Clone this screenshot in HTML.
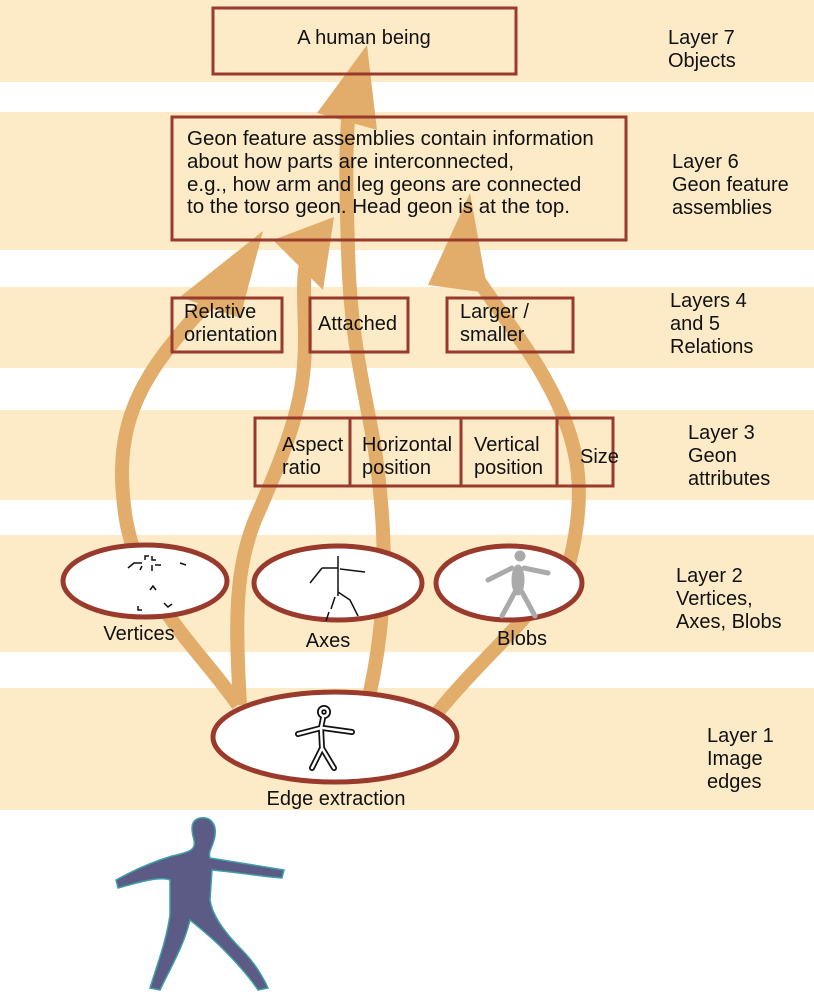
<!DOCTYPE html>
<html><head><meta charset="utf-8"><style>
body{margin:0;background:#fff;}
svg{display:block;font-family:"Liberation Sans",Arial,sans-serif;}
</style></head><body>
<svg width="814" height="996" viewBox="0 0 814 996">
<g fill="#fdebc8">
<rect x="0" y="0" width="814" height="82"/>
<rect x="0" y="112" width="814" height="138"/>
<rect x="0" y="287" width="814" height="81"/>
<rect x="0" y="410" width="814" height="90"/>
<rect x="0" y="535" width="814" height="117"/>
<rect x="0" y="688" width="814" height="122"/>
</g>
<g font-size="20" fill="#111">
<text x="668" y="44"><tspan x="668">Layer 7</tspan><tspan x="668" dy="23">Objects</tspan></text>
<text x="672" y="168"><tspan x="672">Layer 6</tspan><tspan x="672" dy="23">Geon feature</tspan><tspan x="672" dy="23">assemblies</tspan></text>
<text x="670" y="307"><tspan x="670">Layers 4</tspan><tspan x="670" dy="23">and 5</tspan><tspan x="670" dy="23">Relations</tspan></text>
<text x="688" y="439"><tspan x="688">Layer 3</tspan><tspan x="688" dy="23">Geon</tspan><tspan x="688" dy="23">attributes</tspan></text>
<text x="676" y="582"><tspan x="676">Layer 2</tspan><tspan x="676" dy="23">Vertices,</tspan><tspan x="676" dy="23">Axes, Blobs</tspan></text>
<text x="707" y="742"><tspan x="707">Layer 1</tspan><tspan x="707" dy="23">Image</tspan><tspan x="707" dy="23">edges</tspan></text>
</g>
<g fill="none" stroke="#e2ad6a" stroke-width="14" stroke-linecap="butt">
<path d="M238 705 C200 650 140 600 126 520 C115 450 125 400 175 340 C195 315 210 300 225 290"/>
<path d="M240 705 C235 620 235 570 255 520 C290 440 305 400 305 340 C305 300 300 270 312 245"/>
<path d="M370 692 C390 600 385 520 375 450 C365 390 350 340 348 250 C346 180 345 140 350 100"/>
<path d="M438 712 C480 660 530 620 570 560 C590 480 575 430 540 370 C510 320 480 290 462 250"/>
</g>
<g fill="#e2ad6a">
<polygon points="263,231 180,297 240,318"/>
<polygon points="334,217 273,240 323,290"/>
<polygon points="367,45 317,113 377,130"/>
<polygon points="470,193 428,285 488,293"/>
</g>
<g stroke="#993a2c" stroke-width="3" fill="none">
<rect x="213" y="8" width="303" height="66"/>
<rect x="172" y="117" width="454" height="123"/>
<rect x="172" y="298" width="110" height="54"/>
<rect x="310" y="298" width="98" height="54"/>
<rect x="447" y="298" width="126" height="54"/>
<rect x="255" y="418" width="358" height="68"/>
<line x1="350" y1="418" x2="350" y2="486"/>
<line x1="461" y1="418" x2="461" y2="486"/>
<line x1="557" y1="418" x2="557" y2="486"/>
</g>
<g stroke="#993a2c" stroke-width="5" fill="#fff">
<ellipse cx="145" cy="581" rx="82" ry="36"/>
<ellipse cx="338" cy="583" rx="84" ry="37"/>
<ellipse cx="509" cy="583" rx="73" ry="37"/>
<ellipse cx="335" cy="737" rx="122" ry="45"/>
</g>
<g font-size="20" fill="#111">
<text x="364" y="44" text-anchor="middle">A human being</text>
<text x="187" y="145" font-size="20.5"><tspan x="187">Geon feature assemblies contain information</tspan><tspan x="187" dy="23">about how parts are interconnected,</tspan><tspan x="187" dy="23">e.g., how arm and leg geons are connected</tspan><tspan x="187" dy="22">to the torso geon. Head geon is at the top.</tspan></text>
<text x="184" y="318"><tspan x="184">Relative</tspan><tspan x="184" dy="23">orientation</tspan></text>
<text x="318" y="330">Attached</text>
<text x="460" y="318"><tspan x="460">Larger /</tspan><tspan x="460" dy="23">smaller</tspan></text>
<text x="282" y="451"><tspan x="282">Aspect</tspan><tspan x="282" dy="23">ratio</tspan></text>
<text x="362" y="451"><tspan x="362">Horizontal</tspan><tspan x="362" dy="23">position</tspan></text>
<text x="474" y="451"><tspan x="474">Vertical</tspan><tspan x="474" dy="23">position</tspan></text>
<text x="580" y="463">Size</text>
<text x="139" y="640" text-anchor="middle">Vertices</text>
<text x="328" y="647" text-anchor="middle">Axes</text>
<text x="522" y="645" text-anchor="middle">Blobs</text>
<text x="336" y="805" text-anchor="middle">Edge extraction</text>
</g>
<g stroke="#111" stroke-width="1.5" fill="none">
<path d="M128 568 l6 -5 l8 0 M145 560 l0 -4 l4 0 M152 556 l0 4 l4 0 M142 566 l-2 4 M152 565 l0 6 M155 565 l6 0 M180 563 l6 2 M150 590 l3 -4 l3 4 M138 606 l0 4 l4 0 M164 603 l4 4 l4 -3"/>
</g>
<g stroke="#111" stroke-width="1.5" fill="none">
<path d="M338 556 v40 M322 568 h16 M340 569 l25 3 M322 568 l-12 15 M338 592 l12 8 l8 16 M335 597 l-4 12 M329 612 l-3 9"/>
</g>
<g fill="#aaa" stroke="#aaa">
<circle cx="520" cy="556" r="5"/>
<ellipse cx="518" cy="580" rx="6" ry="15"/>
<path d="M512 568 L488 580 M524 568 L548 573 M515 592 L502 616 M522 592 L535 616" stroke-width="5" stroke-linecap="round"/>
</g>
<g fill="none" stroke="#111" stroke-width="6" stroke-linecap="round" stroke-linejoin="round">
<circle cx="324" cy="712" r="4"/>
<path d="M323 718 L321 728 L298 734 M321 728 L322 748 L312 768 M322 748 L334 768 M323 728 L352 732"/>
</g>
<g fill="none" stroke="#fff" stroke-width="2.5" stroke-linecap="round" stroke-linejoin="round">
<circle cx="324" cy="712" r="4"/>
<path d="M323 718 L321 728 L298 734 M321 728 L322 748 L312 768 M322 748 L334 768 M323 728 L352 732"/>
</g>
<g fill="#5b5b86" stroke="#3fa0a8" stroke-width="1.5">
<path d="M200 818 C212 816 218 826 214 840 C212 848 208 852 210 858 C235 862 260 866 284 870 L282 878 C258 876 234 872 212 870 L210 900 C212 914 222 930 242 950 C254 962 262 975 268 988 L258 990 C250 978 236 962 222 948 C210 936 196 925 190 920 C184 945 172 965 160 990 L150 988 C158 962 166 942 170 915 L170 880 C160 876 140 882 118 888 L116 880 C134 870 152 862 172 856 C190 852 196 850 194 840 C190 826 192 820 200 818 Z"/>
</g>
</svg>
</body></html>
